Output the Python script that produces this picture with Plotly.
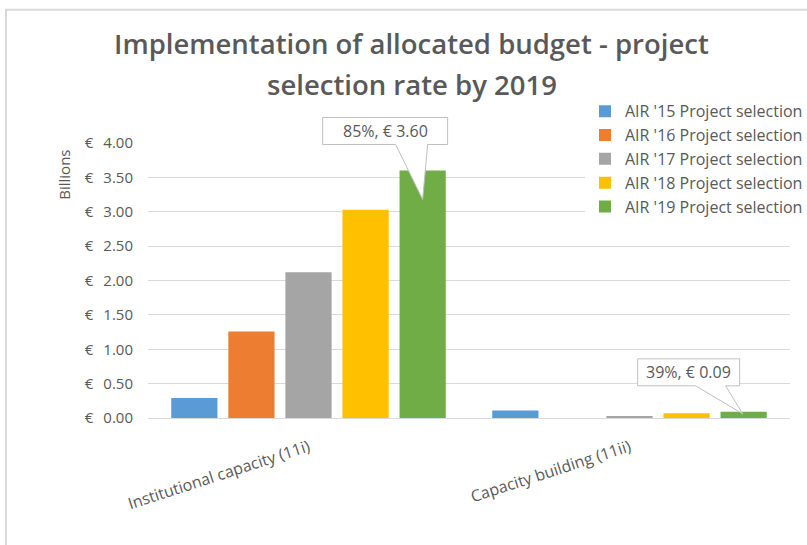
import plotly.graph_objects as go

# Budget allocation data (billions of euro)
categories = ["Institutional capacity (11i)", "Capacity building (11ii)"]
series_names = [
    "AIR '15 Project selection",
    "AIR '16 Project selection",
    "AIR '17 Project selection",
    "AIR '18 Project selection",
    "AIR '19 Project selection",
]
air15 = [0.29, 0.11]
air16 = [1.26, 0.00]
air17 = [2.12, 0.02]
air18 = [3.03, 0.07]
air19 = [3.60, 0.09]
air19_rate = ["85%", "39%"]

series_values = [air15, air16, air17, air18, air19]
colors = ["#5B9BD5", "#ED7D31", "#A5A5A5", "#FFC000", "#70AD47"]

y_ticks = [0, 0.5, 1.0, 1.5, 2.0, 2.5, 3.0, 3.5, 4.0]
y_ticktext = [f"€\u2002\u2009{v:.2f}" for v in y_ticks]

title_lines = ["Implementation of allocated budget - project",
               "selection rate by 2019"]

FONT = "Open Sans"
GREY = "#595959"
BARGAP = 0.111
BARGROUPGAP = 0.19
X_RANGE = [-0.5, len(categories) - 0.5]
Y_RANGE = [0, 4.0]

x_pos = list(range(len(categories)))


def x_to_paper(v):
    return (v - X_RANGE[0]) / (X_RANGE[1] - X_RANGE[0])


def y_to_paper(v):
    return (v - Y_RANGE[0]) / (Y_RANGE[1] - Y_RANGE[0])


fig = go.Figure()
for i, (name, vals, col) in enumerate(zip(series_names, series_values, colors)):
    fig.add_trace(go.Bar(
        x=x_pos, y=vals, name=name,
        marker=dict(color=col, line=dict(width=0)),
        legendgroup=f"g{i}",
        hoverinfo="y+name",
    ))

# Callout boxes for the AIR '19 series
n_series = len(series_values)
slot = (1 - BARGAP) / n_series
last_offset = (n_series - 1 - (n_series - 1) / 2) * slot

callouts = [
    # box left, right, top, bottom / wedge base x0, x1, tip dx, tip dy (pixels from bar top)
    dict(box=(-100, 25, 53, 26), wedge=(-27, 5, 0, -29)),
    dict(box=(-106, -4, 53, 26), wedge=(-48, -18, -1, -2)),
]
for idx, c in enumerate(callouts):
    xa = x_pos[idx] + last_offset
    ya = air19[idx]
    l, r, t, b = c["box"]
    w0, w1, tx, ty = c["wedge"]
    path = (f"M{l},{t} L{r},{t} L{r},{b} L{w1},{b} L{tx},{ty} "
            f"L{w0},{b} L{l},{b} Z")
    fig.add_shape(
        type="path", path=path,
        xref="paper", yref="paper", xsizemode="pixel", ysizemode="pixel",
        xanchor=x_to_paper(xa), yanchor=y_to_paper(ya),
        fillcolor="white", line=dict(color="#BFBFBF", width=1),
        layer="above",
    )
    fig.add_annotation(
        x=xa, y=ya, xref="x", yref="y",
        text=f"{air19_rate[idx]}, €\u00a0{ya:.2f}",
        showarrow=False,
        xshift=(l + r) / 2, yshift=(t + b) / 2,
        font=dict(family=FONT, size=16, color=GREY),
    )

# Two-line chart title
for line, ypaper in zip(title_lines, [1.36, 1.213]):
    fig.add_annotation(
        x=0.4112, y=ypaper, xref="paper", yref="paper",
        xanchor="center", yanchor="middle", showarrow=False,
        text=line,
        font=dict(family=FONT, size=27.5, color=GREY, weight=600),
    )

# "Billions" unit label
fig.add_annotation(
    x=-0.13, y=0.883, xref="paper", yref="paper",
    xanchor="center", yanchor="middle",
    text="Billions", textangle=-90, showarrow=False,
    font=dict(family=FONT, size=15, color=GREY),
)

# Chart frame (top and left edges)
fig.add_shape(type="rect", xref="paper", yref="paper",
              x0=-0.2212, x1=1.5, y0=-1, y1=1.485,
              line=dict(color="#D9D9D9", width=2), layer="below")

fig.update_layout(
    width=807, height=545,
    margin=dict(l=148, r=17, t=143, b=127, autoexpand=False),
    paper_bgcolor="white", plot_bgcolor="white",
    barmode="group", bargap=BARGAP, bargroupgap=BARGROUPGAP,
    legend=dict(
        x=(585 - 148) / 642, y=1.177, xanchor="left", yanchor="top",
        bgcolor="white", font=dict(family=FONT, size=16, color=GREY),
        tracegroupgap=0, itemwidth=30,
    ),
    font=dict(family=FONT, color=GREY),
    xaxis=dict(
        range=X_RANGE, tickvals=x_pos, ticktext=categories,
        tickangle=-18, showgrid=False, zeroline=False,
        showline=True, linecolor="#D9D9D9", linewidth=1,
        ticks="", tickfont=dict(family=FONT, size=16, color=GREY),
        ticklabelstandoff=13,
        fixedrange=True,
    ),
    yaxis=dict(
        range=Y_RANGE, tickvals=y_ticks, ticktext=y_ticktext,
        showgrid=True, gridcolor="#D9D9D9", gridwidth=1,
        zeroline=False, showline=False, ticks="",
        ticklabelstandoff=14,
        tickfont=dict(family=FONT, size=15, color=GREY),
        fixedrange=True,
    ),
)

fig.write_html("out.html")
